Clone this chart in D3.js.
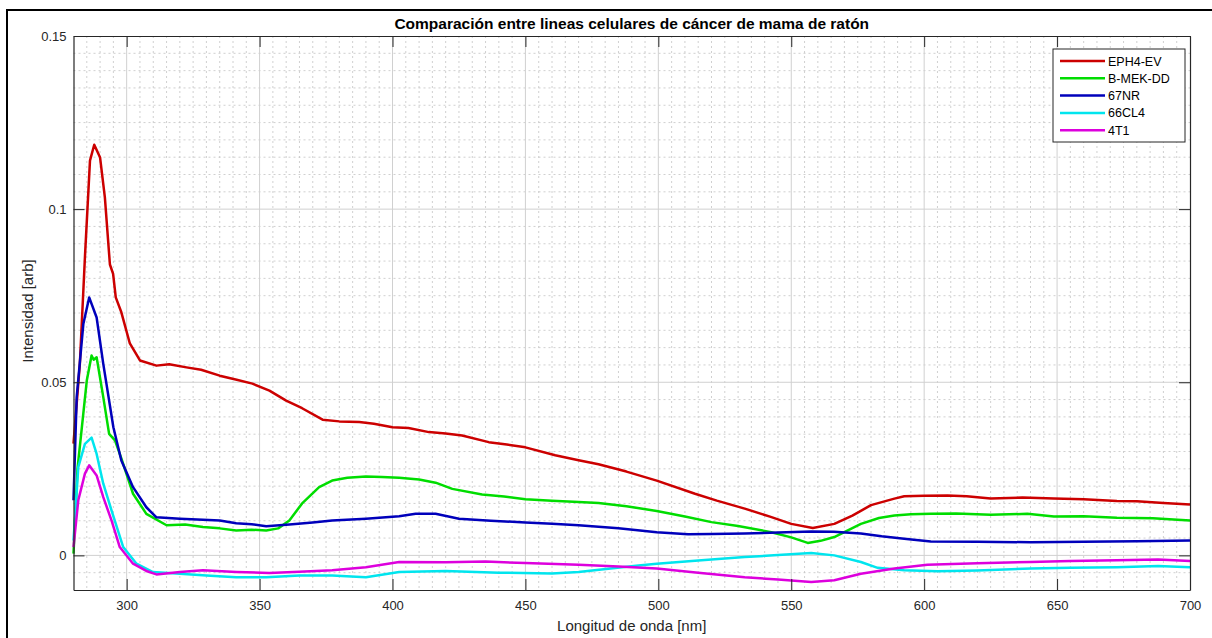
<!DOCTYPE html>
<html>
<head>
<meta charset="utf-8">
<script src="https://cdn.jsdelivr.net/npm/d3@7"></script>
<style>
  body { margin: 0; background: #fff; }
  svg { display: block; font-family: "Liberation Sans", Arial, sans-serif; }
</style>
</head>
<body>
<script>
// series names + colours (legend order)
const seriesNames = ["EPH4-EV", "B-MEK-DD", "67NR", "66CL4", "4T1"];
const seriesColors = ["#cc0000", "#00dd00", "#0000bb", "#00e5ee", "#dd00dd"];

// wavelengths [nm] and intensities
const wlEPH4 = [280, 282.4, 284.3, 286.2, 287.8, 290, 291.8, 293.7, 294.9, 295.9, 298, 301.2, 305, 311.2, 316, 322.5, 328, 335, 341, 347.3, 353.7, 360, 366, 373.7, 380, 387.5, 393, 400, 406, 413.7, 420, 426.2, 436.2, 443, 450, 461.2, 470, 477.5, 488, 499.4, 513.8, 522, 532.5, 542, 550, 558.1, 566.2, 573, 580, 588.8, 592.5, 600, 608.8, 616, 625, 637, 648.8, 660, 672.5, 680, 690, 700];
const valEPH4 = [0.0323, 0.0554, 0.0861, 0.114, 0.1186, 0.1149, 0.1034, 0.084, 0.0813, 0.0745, 0.0702, 0.0612, 0.0563, 0.0548, 0.0552, 0.0543, 0.0536, 0.0519, 0.0508, 0.0496, 0.0476, 0.0447, 0.0425, 0.0392, 0.0387, 0.0385, 0.038, 0.037, 0.0368, 0.0356, 0.0352, 0.0346, 0.0327, 0.032, 0.0312, 0.0289, 0.0275, 0.0263, 0.0242, 0.0216, 0.0178, 0.0158, 0.0135, 0.0112, 0.0091, 0.0079, 0.0091, 0.0115, 0.0145, 0.0164, 0.0171, 0.0172, 0.0173, 0.0171, 0.0164, 0.0167, 0.0164, 0.0162, 0.0157, 0.0156, 0.0151, 0.0147];

const wlBMEK = [280, 281.5, 283.7, 285, 286.8, 287.6, 288.7, 291.2, 293.4, 295.6, 298, 302.4, 307.4, 315, 322, 328.7, 335, 341.2, 347, 352.5, 357, 361.2, 366, 372.4, 377.3, 383, 390, 396, 402.5, 410, 416.2, 422.5, 433.7, 442, 450, 460, 470, 477.5, 488, 499.4, 510, 520, 530, 542.5, 550, 556.2, 561, 566.2, 576.2, 583, 588.8, 595, 602.5, 612, 625, 638.8, 648.8, 660, 672.5, 686, 700];
const valBMEK = [0.0005, 0.025, 0.041, 0.0505, 0.0577, 0.0565, 0.0572, 0.0457, 0.0351, 0.0332, 0.028, 0.0178, 0.012, 0.0087, 0.0089, 0.0082, 0.0078, 0.0072, 0.0074, 0.0072, 0.0078, 0.0101, 0.015, 0.0197, 0.0216, 0.0224, 0.0228, 0.0226, 0.0224, 0.0219, 0.021, 0.0192, 0.0176, 0.017, 0.0162, 0.0158, 0.0154, 0.0151, 0.0142, 0.0128, 0.0112, 0.0096, 0.0085, 0.0067, 0.0052, 0.0036, 0.0042, 0.0053, 0.0091, 0.0108, 0.0115, 0.0119, 0.012, 0.0121, 0.0117, 0.012, 0.0112, 0.0113, 0.0109, 0.0107, 0.0101];

const wl67NR = [280, 281.2, 283.7, 285.9, 288.7, 291.2, 295, 298, 302.4, 307.4, 311.2, 320, 328.7, 335, 341.2, 347, 352.5, 361.2, 370, 377.3, 390, 402.5, 408.7, 416.2, 425, 437, 450, 460, 470, 485, 499.4, 511.2, 520, 532.5, 545, 557.5, 566, 576.2, 584, 592.5, 602.5, 620, 640, 660, 680, 700];
const val67NR = [0.0159, 0.0457, 0.0668, 0.0745, 0.0687, 0.0553, 0.037, 0.0274, 0.0197, 0.0139, 0.011, 0.0106, 0.0103, 0.0101, 0.0093, 0.009, 0.0084, 0.0089, 0.0095, 0.0101, 0.0106, 0.0113, 0.012, 0.012, 0.0106, 0.01, 0.0095, 0.0091, 0.0087, 0.0078, 0.0067, 0.0061, 0.0062, 0.0063, 0.0066, 0.0069, 0.0068, 0.0063, 0.0055, 0.0048, 0.004, 0.0039, 0.0038, 0.0039, 0.0041, 0.0043];

const wl66CL4 = [280, 281.8, 284.3, 286.8, 288.7, 291.2, 294.3, 298.7, 303.7, 309.9, 320, 330, 341.2, 352.5, 365, 377.3, 390, 402.5, 420, 440, 460, 470, 482, 492.5, 499.4, 515, 532.5, 545, 557.5, 566.2, 576.2, 582.5, 592.5, 605, 620, 640, 655, 672.5, 688, 700];
const val66CL4 = [0.0043, 0.0255, 0.0322, 0.034, 0.0293, 0.0207, 0.013, 0.0024, -0.0024, -0.0048, -0.0053, -0.0058, -0.0063, -0.0063, -0.0058, -0.0058, -0.0063, -0.0048, -0.0045, -0.005, -0.0052, -0.0048, -0.0038, -0.0029, -0.0024, -0.0015, -0.0005, 0.0001, 0.0007, 0, -0.0019, -0.0036, -0.0043, -0.0046, -0.0044, -0.0038, -0.0036, -0.0034, -0.0031, -0.0034];

const wl4T1 = [280, 281.8, 284.3, 285.9, 288.7, 291.2, 294.3, 297.4, 302.4, 307.4, 311.2, 320, 328.7, 341.2, 353.7, 365, 377.3, 390, 402.5, 420, 435, 450, 470, 485, 499.4, 515, 532.5, 545, 557.5, 566.2, 576.2, 588.8, 601.2, 620, 640, 655, 672.5, 688, 700];
const val4T1 = [0.0024, 0.0159, 0.0236, 0.026, 0.0231, 0.0168, 0.0101, 0.0024, -0.0024, -0.0045, -0.0055, -0.0048, -0.0043, -0.0048, -0.0051, -0.0047, -0.0043, -0.0034, -0.0019, -0.002, -0.0018, -0.0022, -0.0027, -0.0032, -0.0038, -0.005, -0.0063, -0.007, -0.0077, -0.0072, -0.0053, -0.0038, -0.0027, -0.0023, -0.0019, -0.0016, -0.0014, -0.0012, -0.0016];

const xTicks = [300, 350, 400, 450, 500, 550, 600, 650, 700];
const yTicks = [0, 0.05, 0.1, 0.15];
const yTickLabels = ["0", "0.05", "0.1", "0.15"];

const wlSets = [wlEPH4, wlBMEK, wl67NR, wl66CL4, wl4T1];
const valSets = [valEPH4, valBMEK, val67NR, val66CL4, val4T1];

const W = 1212, H = 638;
const mLeft = 73.5, mRight = 1190, mTop = 36, mBottom = 590;

const svg = d3.select("body").append("svg").attr("width", W).attr("height", H);

// outer figure frame
svg.append("rect").attr("x", 7).attr("y", 10).attr("width", W + 10).attr("height", H)
  .attr("fill", "none").attr("stroke", "#000").attr("stroke-width", 2);

const x = d3.scaleLinear().domain([280, 700]).range([mLeft, mRight]);
const y = d3.scaleLinear().domain([-0.01, 0.15]).range([mBottom, mTop]);

// minor grid
const grid = svg.append("g");
grid.selectAll(".mx").data(d3.range(285, 700, 5).filter(v => v % 50 !== 0)).enter().append("line")
  .attr("x1", d => x(d)).attr("x2", d => x(d)).attr("y1", mTop).attr("y2", mBottom)
  .attr("stroke", "#c4c4c4").attr("stroke-width", 0.8).attr("stroke-dasharray", "2,3");
grid.selectAll(".my").data(d3.range(-0.005, 0.15, 0.005).filter(v => Math.abs(v / 0.05 - Math.round(v / 0.05)) > 1e-6)).enter().append("line")
  .attr("x1", mLeft).attr("x2", mRight).attr("y1", d => y(d)).attr("y2", d => y(d))
  .attr("stroke", "#c4c4c4").attr("stroke-width", 0.8).attr("stroke-dasharray", "2,3");
// major grid
grid.selectAll(".gx").data(xTicks.slice(0, -1)).enter().append("line")
  .attr("x1", d => x(d)).attr("x2", d => x(d)).attr("y1", mTop).attr("y2", mBottom)
  .attr("stroke", "#d0d0d0").attr("stroke-width", 1);
grid.selectAll(".gy").data(yTicks.slice(0, -1)).enter().append("line")
  .attr("x1", mLeft).attr("x2", mRight).attr("y1", d => y(d)).attr("y2", d => y(d))
  .attr("stroke", "#d0d0d0").attr("stroke-width", 1);

// lines
const line = d3.line().x(d => x(d[0])).y(d => y(d[1]));
seriesNames.forEach((name, i) => {
  const pts = wlSets[i].map((w, j) => [w, valSets[i][j]]);
  svg.append("path").datum(pts).attr("d", line)
    .attr("fill", "none").attr("stroke", seriesColors[i]).attr("stroke-width", 2.5)
    .attr("stroke-linejoin", "round");
});

// axes (ticks inward, on all four sides)
const tk = 11;
const axisColor = "#262626";
const xb = svg.append("g").attr("transform", `translate(0,${mBottom})`)
  .call(d3.axisBottom(x).tickValues(xTicks).tickSizeInner(-tk).tickSizeOuter(0).tickPadding(11));
const xt = svg.append("g").attr("transform", `translate(0,${mTop})`)
  .call(d3.axisTop(x).tickValues(xTicks).tickSizeInner(-tk).tickSizeOuter(0).tickFormat(""));
const yl = svg.append("g").attr("transform", `translate(${mLeft},0)`)
  .call(d3.axisLeft(y).tickValues(yTicks).tickSizeInner(-tk).tickSizeOuter(0).tickPadding(7)
    .tickFormat((d, i) => yTickLabels[i]));
const yr = svg.append("g").attr("transform", `translate(${mRight},0)`)
  .call(d3.axisRight(y).tickValues(yTicks).tickSizeInner(-tk).tickSizeOuter(0).tickFormat(""));
[xb, xt, yl, yr].forEach(g => {
  g.select(".domain").attr("stroke", axisColor).attr("stroke-width", 1.2);
  g.selectAll(".tick line").attr("stroke", axisColor).attr("stroke-width", 1);
  g.selectAll("text").attr("fill", axisColor).attr("font-size", 13)
    .attr("font-family", "Liberation Sans, Arial, sans-serif");
});

// titles
svg.append("text").attr("x", (mLeft + mRight) / 2).attr("y", 29).attr("text-anchor", "middle")
  .attr("font-weight", "bold").attr("font-size", 15.5).attr("fill", "#000")
  .text("Comparación entre lineas celulares de cáncer de mama de ratón");
svg.append("text").attr("x", (mLeft + mRight) / 2).attr("y", 631).attr("text-anchor", "middle")
  .attr("font-size", 15).attr("fill", axisColor).text("Longitud de onda [nm]");
svg.append("text").attr("transform", `translate(33,${(mTop + mBottom) / 2 - 2}) rotate(-90)`)
  .attr("text-anchor", "middle").attr("font-size", 15).attr("fill", axisColor)
  .text("Intensidad [arb]");

// legend
const lg = svg.append("g").attr("transform", "translate(1053,49)");
lg.append("rect").attr("width", 132).attr("height", 93).attr("fill", "#fff")
  .attr("stroke", axisColor).attr("stroke-width", 1);
seriesNames.forEach((name, i) => {
  const yy = 12 + i * 17.3;
  lg.append("line").attr("x1", 7).attr("x2", 52).attr("y1", yy).attr("y2", yy)
    .attr("stroke", seriesColors[i]).attr("stroke-width", 2.5);
  lg.append("text").attr("x", 55).attr("y", yy + 4.5).attr("font-size", 12.5).attr("fill", "#000").text(name);
});
</script>
</body>
</html>
